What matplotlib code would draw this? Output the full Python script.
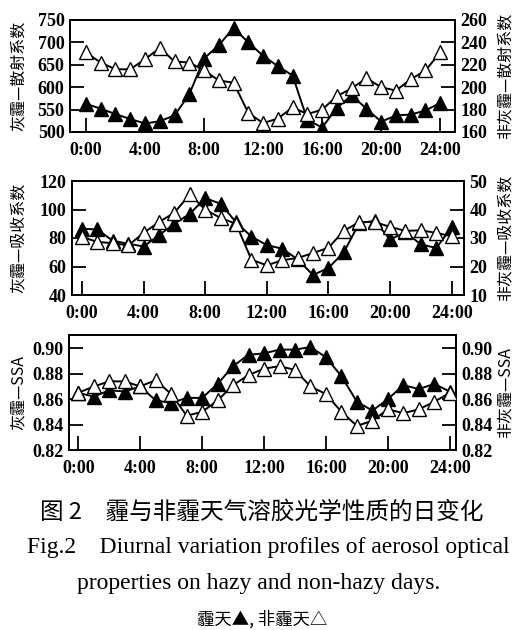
import matplotlib

matplotlib.use("Agg")
import matplotlib.pyplot as plt

plt.rcParams["font.family"] = ["Liberation Serif", "Noto Sans CJK SC", "DejaVu Sans"]
CJK = ["Noto Sans CJK SC", "DejaVu Sans"]

hours = list(range(25))
xtick_pos = [0, 4, 8, 12, 16, 20, 24]
xtick_labels = ["0:00", "4:00", "8:00", "12:00", "16:00", "20:00", "24:00"]

# scattering coefficient
scat_haze = [563, 552, 540, 529, 519, 524, 537, 584, 664, 694, 732, 700, 670, 647, 626,
             527, 510, 554, 582, 552, 523, 537, 539, 548, 565]
scat_clear = [231, 222, 216, 216, 225, 235, 223, 222, 215, 206, 204, 177, 168, 172, 182,
              176, 180, 192, 199, 208, 200, 197, 207, 215, 231]

# absorption coefficient
abs_haze = [86.5, 86, 78, 76, 74, 82, 90, 97, 108, 104, 91, 81, 75, 72.5, 65,
            54, 59, 70, 90.5, 92, 79, 84, 75.5, 73, 87.5]
abs_clear = [30.4, 28.6, 28.2, 27.4, 31.8, 35.6, 38.9, 45.3, 40, 37, 35, 22.4, 20.4, 22.2, 23,
             24.7, 26.6, 32.5, 35.6, 35.6, 33.9, 32.5, 32.7, 31.8, 30.6]

# single scattering albedo
ssa_haze = [0.865, 0.862, 0.867, 0.866, 0.870, 0.859, 0.857, 0.861, 0.861, 0.872, 0.886, 0.895,
            0.896, 0.899, 0.899, 0.901, 0.893, 0.878, 0.858, 0.851, 0.860, 0.871, 0.868, 0.872, 0.866]
ssa_clear = [0.865, 0.870, 0.874, 0.874, 0.870, 0.875, 0.864, 0.847, 0.850, 0.859, 0.871, 0.879,
             0.884, 0.886, 0.883, 0.870, 0.864, 0.850, 0.839, 0.843, 0.852, 0.849, 0.852, 0.858, 0.865]

panels = [
    # rect (px), xlim, left ylim/ticks, right ylim/ticks, labels, data, tick format
    ([70, 20, 455, 132], (-1.08, 25.0), (500, 750), [500, 550, 600, 650, 700, 750],
     (160, 260), [160, 180, 200, 220, 240, 260], "灰霾—散射系数", "非灰霾—散射系数",
     scat_haze, scat_clear, "{:.0f}"),
    ([72, 181, 464, 295], (-0.65, 24.8), (40, 120), [40, 60, 80, 100, 120],
     (10, 50), [10, 20, 30, 40, 50], "灰霾—吸收系数", "非灰霾—吸收系数",
     abs_haze, abs_clear, "{:.0f}"),
    ([69, 335, 456, 450], (-0.6, 24.4), (0.82, 0.9105), [0.82, 0.84, 0.86, 0.88, 0.90],
     (0.82, 0.9105), [0.82, 0.84, 0.86, 0.88, 0.90], "灰霾—SSA", "非灰霾—SSA",
     ssa_haze, ssa_clear, "{:.2f}"),
]

W, H = 518, 630
fig = plt.figure(figsize=(W / 100, H / 100), dpi=100)

for (x0, y0, x1, y1), xlim, ylim, yt, ylim2, yt2, lab_l, lab_r, haze, clear, fmt in panels:
    ax = fig.add_axes([x0 / W, 1 - y1 / H, (x1 - x0) / W, (y1 - y0) / H])
    ax2 = ax.twinx()
    ax.plot(hours, haze, "-^", color="black", lw=1.4, ms=9.5, mfc="black", zorder=3)
    ax2.plot(hours, clear, "-^", color="black", lw=1.4, ms=9.5, mfc="white", zorder=3)
    ax.set_xlim(*xlim)
    ax.set_ylim(*ylim)
    ax2.set_ylim(*ylim2)
    ax.set_xticks(xtick_pos)
    ax.set_xticklabels(xtick_labels)
    ax.set_yticks(yt)
    ax.set_yticklabels([fmt.format(v) for v in yt])
    ax2.set_yticks(yt2)
    ax2.set_yticklabels([fmt.format(v) for v in yt2])
    ax.tick_params(axis="x", direction="in", length=10, width=1.3, pad=7, labelsize=13)
    ax.tick_params(axis="y", direction="in", length=10, width=1.3, pad=4, labelsize=13)
    ax2.tick_params(axis="y", direction="in", length=10, width=1.3, pad=4, labelsize=13)
    for a in (ax, ax2):
        for s in a.spines.values():
            s.set_linewidth(1.3)
        for t in a.get_xticklabels() + a.get_yticklabels():
            t.set_fontweight("bold")
    yc = 1 - (y0 + y1) / 2 / H
    fig.text(18 / W, yc, lab_l, rotation=90, ha="center", va="center",
             fontsize=11.5, family=CJK)
    fig.text(505 / W, yc, lab_r, rotation=90, ha="center", va="center",
             fontsize=11.5, family=CJK)

fig.text(262 / W, 1 - 512 / H, "图 2　霾与非霾天气溶胶光学性质的日变化", ha="center", va="center",
         fontsize=17, family=CJK)
fig.text(268 / W, 1 - 547 / H, "Fig.2    Diurnal variation profiles of aerosol optical",
         ha="center", va="center", fontsize=17)
fig.text(259 / W, 1 - 583 / H, "properties on hazy and non-hazy days.",
         ha="center", va="center", fontsize=17)
fig.text(262 / W, 1 - 619 / H, "霾天▲, 非霾天△", ha="center", va="center",
         fontsize=12.5, family=CJK)

fig.savefig("out.png", dpi=100)
